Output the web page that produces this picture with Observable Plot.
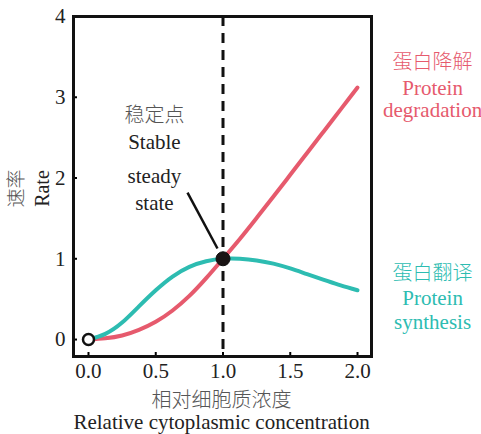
<!DOCTYPE html>
<html>
<head>
<meta charset="utf-8">
<script src="https://cdn.jsdelivr.net/npm/d3@7"></script>
<script src="https://cdn.jsdelivr.net/npm/@observablehq/plot@0.6"></script>
<style>
  html, body { margin: 0; padding: 0; background: #fff; }
  #chart { width: 481px; height: 434px; }
</style>
</head>
<body>
<div id="chart"></div>
<script>
// Data
const concentration = [0, 0.125, 0.25, 0.375, 0.5, 0.625, 0.75, 0.875, 1, 1.125, 1.25, 1.375, 1.5, 1.625, 1.75, 1.875, 2];
const degradation   = [0, 0.015, 0.05, 0.12, 0.22, 0.36, 0.54, 0.76, 1.0, 1.245, 1.505, 1.77, 2.04, 2.31, 2.58, 2.85, 3.12];
const synthesis     = [0, 0.07, 0.21, 0.41, 0.61, 0.78, 0.90, 0.97, 1.0, 1.0, 0.98, 0.94, 0.88, 0.81, 0.74, 0.67, 0.61];
const xTicks = [0, 0.5, 1, 1.5, 2];
const xTickLabels = ["0.0", "0.5", "1.0", "1.5", "2.0"];
const yTicks = [0, 1, 2, 3, 4];
const steadyPoint = [{x: 1, y: 1}];
const originPoint = [{x: 0, y: 0}];
const annotationLines = ["稳定点", "Stable", "steady", "state"];
const degradationLabel = ["蛋白降解", "Protein", "degradation"];
const synthesisLabel = ["蛋白翻译", "Protein", "synthesis"];
const xLabel = ["相对细胞质浓度", "Relative cytoplasmic concentration"];
const yLabel = ["速率", "Rate"];

const RED = "#e65a6d";
const TEAL = "#2dbcb1";
const FONT = "'Liberation Serif', 'Times New Roman', 'Noto Sans CJK SC', serif";
const CJK = "'Noto Sans CJK SC', sans-serif";

const degRows = concentration.map((c, i) => ({x: c, y: degradation[i]}));
const synRows = concentration.map((c, i) => ({x: c, y: synthesis[i]}));
const isCJK = (d, i) => i === 0;
const isLatin = (d, i) => i > 0;

const chart = Plot.plot({
  width: 481,
  height: 434,
  marginLeft: 73,
  marginRight: 110,
  marginTop: 16,
  marginBottom: 78,
  style: {fontFamily: FONT, fontSize: "21px", background: "#fff", overflow: "visible"},
  x: {domain: [-0.1115, 2.104], axis: null},
  y: {domain: [-0.21, 4], axis: null},
  marks: [
    Plot.axisX(xTicks, {tickSize: -4, tickPadding: 11, strokeWidth: 2, tickFormat: (d, i) => xTickLabels[i], fontSize: 21, fill: "#222"}),
    Plot.axisY(yTicks, {tickSize: -4, tickPadding: 12, strokeWidth: 2, tickFormat: d3.format("d"), fontSize: 21, fill: "#222"}),
    Plot.ruleX([1], {stroke: "#111", strokeWidth: 3, strokeDasharray: "10,7"}),
    Plot.line(degRows, {x: "x", y: "y", stroke: RED, strokeWidth: 4, curve: "natural"}),
    Plot.line(synRows, {x: "x", y: "y", stroke: TEAL, strokeWidth: 4, curve: "natural"}),
    Plot.link([{x1: 0.736, y1: 1.82, x2: 0.959, y2: 1.127}], {x1: "x1", y1: "y1", x2: "x2", y2: "y2", stroke: "#111", strokeWidth: 2.5}),
    Plot.dot(originPoint, {x: "x", y: "y", r: 5.5, fill: "#fff", stroke: "#111", strokeWidth: 2.5}),
    Plot.dot(steadyPoint, {x: "x", y: "y", r: 7, fill: "#1a1414", stroke: "#111", strokeWidth: 1}),
    Plot.frame({stroke: "#111", strokeWidth: 3}),
    // annotation
    Plot.text(annotationLines, {filter: isCJK, x: 0.49, y: 2.774, text: d => d, fill: "#555", fontSize: 20, fontFamily: CJK, fontWeight: 300}),
    Plot.text(annotationLines, {filter: isLatin, x: 0.49, y: (d, i) => [2.774, 2.44, 2.02, 1.684][i], text: d => d, fill: "#222", fontSize: 21}),
    // right labels
    Plot.text(degradationLabel, {filter: isCJK, x: 2.558, y: 3.43, text: d => d, fill: RED, fontSize: 20, fontFamily: CJK, fontWeight: 300}),
    Plot.text(degradationLabel, {filter: isLatin, x: 2.558, y: (d, i) => [3.43, 3.11, 2.836][i], text: d => d, fill: RED, fontSize: 21}),
    Plot.text(synthesisLabel, {filter: isCJK, x: 2.558, y: 0.817, text: d => d, fill: TEAL, fontSize: 20, fontFamily: CJK, fontWeight: 300}),
    Plot.text(synthesisLabel, {filter: isLatin, x: 2.558, y: (d, i) => [0.817, 0.508, 0.21][i], text: d => d, fill: TEAL, fontSize: 21}),
    // x label
    Plot.text(xLabel, {filter: isCJK, x: 0.989, y: -0.75, text: d => d, fill: "#555", fontSize: 20, fontFamily: CJK, fontWeight: 300}),
    Plot.text(xLabel, {filter: isLatin, x: 0.989, y: -1.03, text: d => d, fill: "#222", fontSize: 21}),
    // y label
    Plot.text(yLabel, {filter: isCJK, x: -0.535, y: 1.87, text: d => d, fill: "#555", fontSize: 19, fontFamily: CJK, fontWeight: 300, rotate: -90}),
    Plot.text(yLabel, {filter: isLatin, x: -0.342, y: 1.87, text: d => d, fill: "#222", fontSize: 20, rotate: -90})
  ]
});
document.getElementById("chart").appendChild(chart);
</script>
</body>
</html>
